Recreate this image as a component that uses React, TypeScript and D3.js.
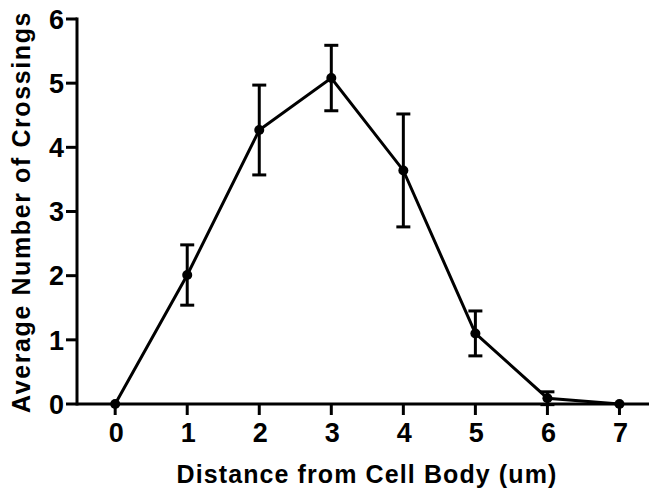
import React from "react";
import * as d3 from "d3";

const distances = [0, 1, 2, 3, 4, 5, 6, 7];
const crossings = [0, 2.01, 4.27, 5.08, 3.64, 1.1, 0.09, 0];
const sem = [0, 0.47, 0.7, 0.51, 0.88, 0.35, 0.1, 0];
const yTicks = [0, 1, 2, 3, 4, 5, 6];

const W = 649;
const H = 491;
const left = 77;
const right = 649;
const top = 19;
const bottom = 404;

const App = () => {
  const x = d3.scaleLinear().domain([-0.53, 7.41]).range([left, right]);
  const y = d3.scaleLinear().domain([0, 6]).range([bottom, top]);

  const line = d3
    .line<number>()
    .x((_, i) => x(distances[i]))
    .y((d) => y(d));

  const font = "'Liberation Sans', Arial, sans-serif";

  return (
    <svg width={W} height={H} style={{ position: "absolute", left: 0, top: 0, background: "#fff" }}>
      {/* axes */}
      <line x1={left} x2={left} y1={top - 1.5} y2={bottom + 1.5} stroke="#000" strokeWidth={3} />
      <line x1={left} x2={right} y1={bottom} y2={bottom} stroke="#000" strokeWidth={3} />
      {yTicks.map((t) => (
        <g key={t}>
          <line x1={left - 11} x2={left} y1={y(t)} y2={y(t)} stroke="#000" strokeWidth={3} />
          <text
            x={left - 13}
            y={y(t)}
            dy="0.36em"
            textAnchor="end"
            fontFamily={font}
            fontWeight="bold"
            fontSize={27}
          >
            {t}
          </text>
        </g>
      ))}
      {distances.map((t) => (
        <g key={t}>
          <line x1={x(t)} x2={x(t)} y1={bottom} y2={bottom + 11} stroke="#000" strokeWidth={3} />
          <text
            x={x(t) + 1}
            y={442}
            textAnchor="middle"
            fontFamily={font}
            fontWeight="bold"
            fontSize={27}
          >
            {t}
          </text>
        </g>
      ))}
      <text
        x={367}
        y={483}
        textAnchor="middle"
        fontFamily={font}
        fontWeight="bold"
        fontSize={25}
        letterSpacing={1.1}
      >
        Distance from Cell Body (um)
      </text>
      <text
        transform={`translate(30, 212) rotate(-90)`}
        textAnchor="middle"
        fontFamily={font}
        fontWeight="bold"
        fontSize={25}
        letterSpacing={1.6}
      >
        Average Number of Crossings
      </text>

      {/* error bars */}
      {crossings.map((m, i) =>
        sem[i] > 0 ? (
          <g key={i} stroke="#000" strokeWidth={3}>
            <line x1={x(distances[i])} x2={x(distances[i])} y1={y(m + sem[i])} y2={y(m - sem[i])} />
            <line x1={x(distances[i]) - 7} x2={x(distances[i]) + 7} y1={y(m + sem[i])} y2={y(m + sem[i])} />
            <line x1={x(distances[i]) - 7} x2={x(distances[i]) + 7} y1={y(m - sem[i])} y2={y(m - sem[i])} />
          </g>
        ) : null
      )}

      <path d={line(crossings) ?? ""} fill="none" stroke="#000" strokeWidth={3} />
      {crossings.map((m, i) => (
        <circle key={i} cx={x(distances[i])} cy={y(m)} r={5} fill="#000" />
      ))}
    </svg>
  );
};

export default App;
